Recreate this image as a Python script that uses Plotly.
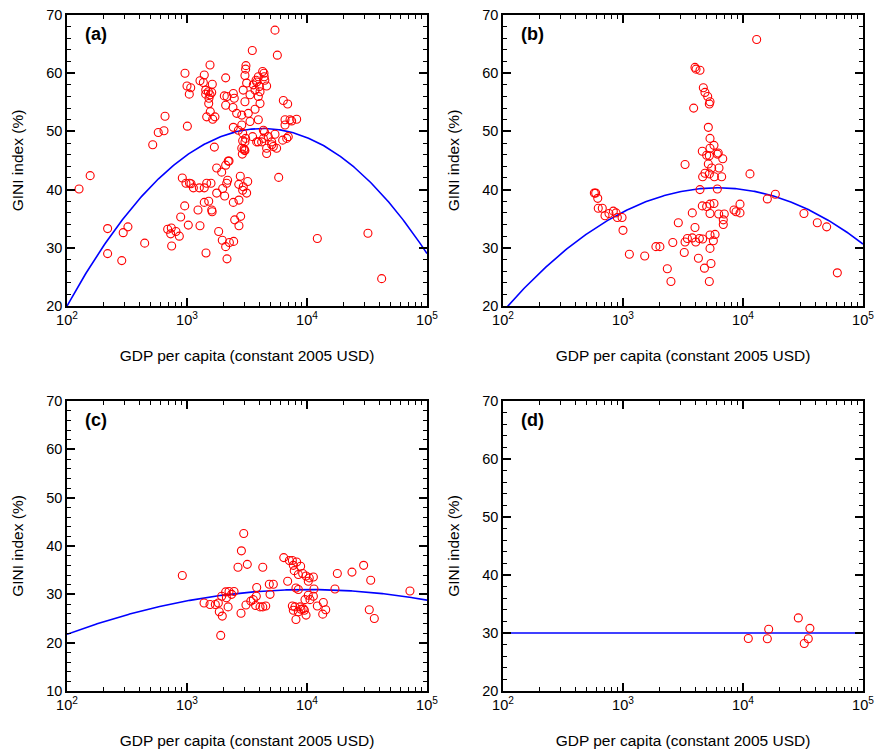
import numpy as np
import plotly.graph_objects as go

# ---- Panel (a) ----
gdp_a = [126, 156, 218, 218, 294, 322, 286, 444, 518, 576, 643, 656, 690, 731, 740, 809, 863, 745,
         886, 957, 914, 980, 1050, 1080, 1130, 1267, 1393, 1459, 1585, 1025, 1283, 1235, 1393, 1517,
         1607, 1620, 1440, 1767, 1945, 2100, 2206, 2142, 2180, 1767, 1983, 2060, 1836, 1968, 2100,
         2255, 2449, 2154, 2432, 2710, 2497, 2710, 2800, 2780, 2945, 2700, 3206, 3141, 2910, 2890,
         3040, 4610, 5810, 12190, 32200, 41900, 5410, 3500, 5660, 3100, 3080, 3040, 4270, 4380, 4400,
         4450, 3140, 2940, 3570, 3810, 4610, 4010, 4060, 3350, 3930, 4060, 3040, 3690, 3240, 3930,
         3350, 2860, 6350, 6900, 6560, 7220, 8200, 7450, 6560, 6980, 5410, 4330, 4420, 3520, 3040,
         2910, 3810, 4190, 4330, 4760, 5080, 5240, 5580, 5080, 4610, 6270, 6780, 2985, 1555, 962,
         1393, 1283, 2100, 1000, 1074, 1045, 1368, 1625, 1432, 1507, 1432, 1607, 1524, 1556, 1517,
         1563, 1459, 1637, 1710, 1007, 1690, 2046, 2153, 2100, 2432, 2477, 2415, 2594, 3690, 3760,
         3930, 2860, 2432, 2680, 2910, 3080, 2860, 3010, 2240, 3930]
gini_a = [40.1, 42.4, 33.3, 29.0, 32.6, 33.6, 27.8, 30.8, 47.7, 49.8, 50.1, 52.6, 33.2, 32.4, 33.4,
          32.8, 32.0, 30.3, 35.3, 37.2, 42.0, 41.1, 41.1, 41.0, 40.3, 40.3, 40.3, 41.1, 41.1, 33.9,
          33.8, 36.5, 37.8, 38.0, 36.5, 36.2, 29.1, 43.7, 43.0, 44.2, 44.9, 41.1, 41.6, 39.4, 40.2,
          38.9, 32.8, 31.3, 30.2, 30.9, 31.1, 28.1, 37.8, 38.2, 34.8, 33.8, 35.4, 42.3, 40.5, 40.9,
          41.4, 39.4, 39.9, 46.1, 46.7, 46.2, 42.1, 31.6, 32.5, 24.7, 67.4, 63.9, 63.1, 61.3, 60.7,
          59.6, 60.3, 60.0, 59.4, 58.8, 58.3, 57.1, 58.0, 58.5, 57.8, 57.7, 56.8, 56.3, 56.0, 54.8,
          55.1, 53.8, 53.1, 52.0, 51.7, 52.8, 55.3, 54.7, 52.0, 52.0, 52.1, 51.8, 51.1, 49.1, 49.5,
          50.2, 49.9, 49.1, 48.2, 48.4, 48.2, 48.2, 48.8, 49.1, 47.7, 47.4, 47.1, 48.2, 47.1, 48.5,
          48.8, 47.0, 61.4, 60.0, 59.7, 58.7, 59.2, 57.8, 57.5, 56.4, 58.4, 58.1, 57.1, 56.8, 56.4,
          56.7, 55.7, 56.3, 54.8, 53.4, 52.5, 52.1, 52.5, 50.9, 47.3, 56.1, 56.0, 54.5, 56.5, 55.7,
          54.1, 53.1, 57.1, 58.8, 59.4, 51.1, 50.7, 50.2, 49.7, 48.8, 47.1, 46.8, 44.9, 48.2]

# ---- Panel (b) ----
gdp_b = [13000, 3980, 4060, 4380, 3880, 4670, 4820, 5080, 5310, 5240, 5140, 5310, 5730, 5310, 4580,
         4980, 5240, 6220, 6110, 6780, 3290, 5140, 5480, 6310, 4820, 5240, 4610, 5770, 6640, 11430,
         4380, 6110, 15950, 18600, 32200, 41600, 49800, 61100, 4580, 4980, 5310, 5730, 5310, 3780,
         6270, 6980, 6850, 6850, 8410, 9440, 9440, 8750, 2890, 3980, 2030, 2600, 3290, 3440, 3780,
         4040, 4330, 4610, 5310, 5850, 5660, 5310, 3240, 4250, 4770, 5410, 2340, 2510, 5240, 577,
         592, 616, 622, 672, 708, 764, 830, 875, 897, 982, 1000, 1130, 1517, 1880]
gini_b = [65.8, 61.0, 60.7, 60.5, 54.0, 57.5, 56.7, 56.0, 55.1, 54.7, 50.7, 48.8, 47.6, 47.1, 46.6,
          45.9, 45.8, 46.3, 46.1, 45.3, 44.3, 44.4, 43.7, 43.7, 42.8, 42.7, 42.2, 42.2, 42.2, 42.7,
          40.0, 40.1, 38.4, 39.2, 35.9, 34.3, 33.6, 25.7, 37.2, 37.1, 37.5, 37.6, 35.9, 36.0, 35.8,
          35.8, 34.8, 34.0, 36.5, 37.5, 36.0, 36.2, 34.3, 33.5, 30.2, 30.9, 31.0, 31.6, 31.7, 31.0,
          31.6, 31.5, 32.2, 32.3, 31.2, 29.9, 29.2, 28.2, 26.5, 27.3, 26.4, 24.2, 24.2, 39.4, 39.4,
          38.5, 36.8, 36.8, 35.5, 35.9, 36.3, 36.0, 35.2, 35.2, 33.0, 28.9, 28.6, 30.2]

# ---- Panel (c) ----
gdp_c = [914, 2970, 2840, 2660, 3180, 1387, 1555, 1722, 1824, 1945, 2100, 2240, 2130, 2355, 2466,
         1858, 1968, 2200, 1910, 2820, 3100, 3400, 4280, 3810, 3780, 3570, 3730, 4060, 4280, 4530,
         4850, 5240, 4920, 6400, 7130, 7550, 8200, 7690, 8850, 7830, 8470, 9200, 9820, 10440, 11300,
         10250, 6900, 8090, 8470, 11430, 10250, 11300, 10590, 9620, 7550, 7940, 7690, 8750, 8910,
         9310, 8470, 9510, 9820, 8090, 12190, 13680, 14320, 13520, 17100, 17900, 23700, 29650,
         33960, 33040, 36390, 72100]
gini_c = [33.9, 42.6, 39.0, 35.6, 36.2, 28.2, 27.9, 27.9, 28.2, 29.6, 30.5, 30.6, 29.3, 30.0, 30.6,
          26.4, 25.5, 27.4, 21.5, 26.1, 27.8, 28.6, 35.6, 31.4, 29.6, 28.9, 27.7, 27.4, 27.4, 27.6,
          32.1, 32.1, 30.0, 37.6, 37.0, 37.0, 36.7, 36.0, 35.8, 34.9, 34.1, 34.3, 33.8, 33.4, 33.6,
          32.7, 32.7, 31.3, 31.0, 31.1, 29.8, 29.6, 28.9, 28.9, 27.6, 27.4, 26.7, 27.4, 26.9, 27.0,
          26.4, 26.7, 25.7, 24.8, 27.6, 28.3, 26.8, 25.9, 31.1, 34.3, 34.6, 36.0, 32.9, 26.8, 25.0,
          30.7]

# ---- Panel (d) ----
gdp_d = [11070, 15950, 16370, 28900, 36100, 35000, 32400]
gini_d = [29.05, 29.0, 30.65, 32.6, 30.8, 29.0, 28.2]

# Quadratic fits in log10(GDP): GINI = c0 + c1*L + c2*L^2
fit_a = [-100.7, 83.29, -11.47]
fit_b = [-54.82, 50.17, -6.615]
fit_c = [-5.71, 18.28, -2.276]
fit_d = [30.0, 0.0, 0.0]

panel_labels = ["(a)", "(b)", "(c)", "(d)"]
y_ranges = [[20, 70], [20, 70], [10, 70], [20, 70]]
x_tick_vals = [1e2, 1e3, 1e4, 1e5]
x_tick_text = ["10<sup>2</sup>", "10<sup>3</sup>", "10<sup>4</sup>", "10<sup>5</sup>"]
x_minor_vals = [m * 10 ** e for e in (2, 3, 4) for m in range(2, 10)]

W, H = 876, 754
x_domains = [[67 / W, 427 / W], [503 / W, 863 / W], [67 / W, 427 / W], [503 / W, 863 / W]]
y_top = [1 - 306 / H, 1 - 15 / H]
y_bot = [1 - 691 / H, 1 - 401 / H]
y_domains = [y_top, y_top, y_bot, y_bot]

FONT = "Liberation Sans, Arial, Helvetica, sans-serif"
fig = go.Figure()

data = [(gdp_a, gini_a, fit_a), (gdp_b, gini_b, fit_b), (gdp_c, gini_c, fit_c), (gdp_d, gini_d, fit_d)]
L = np.linspace(2, 5, 300)
for i, (gx, gy, fit) in enumerate(data):
    xa = "x" if i == 0 else f"x{i+1}"
    ya = "y" if i == 0 else f"y{i+1}"
    curve = fit[0] + fit[1] * L + fit[2] * L ** 2
    fig.add_trace(go.Scatter(x=10 ** L, y=curve, mode="lines", xaxis=xa, yaxis=ya,
                             line=dict(color="#0000ff", width=1.6), showlegend=False,
                             hoverinfo="skip"))
    fig.add_trace(go.Scatter(x=gx, y=gy, mode="markers", xaxis=xa, yaxis=ya,
                             marker=dict(symbol="circle-open", size=8, color="#ff0000",
                                         line=dict(width=1.1, color="#ff0000")),
                             showlegend=False))

layout = dict(width=W, height=H, margin=dict(l=0, r=0, t=0, b=0),
              paper_bgcolor="white", plot_bgcolor="white",
              font=dict(family=FONT, size=14, color="black"))

for i in range(4):
    xk = "xaxis" if i == 0 else f"xaxis{i+1}"
    yk = "yaxis" if i == 0 else f"yaxis{i+1}"
    ya = "y" if i == 0 else f"y{i+1}"
    xa = "x" if i == 0 else f"x{i+1}"
    layout[xk] = dict(
        type="log", range=[2, 5], domain=x_domains[i], anchor=ya,
        showline=True, linecolor="black", linewidth=1.6, mirror="allticks",
        ticks="inside", ticklen=8, tickwidth=1.6, tickcolor="black",
        tickvals=x_tick_vals, ticktext=x_tick_text, showgrid=False, zeroline=False,
        tickfont=dict(size=14.5), automargin=False,
        minor=dict(ticks="inside", ticklen=4, tickwidth=1.2, tickcolor="black",
                   tickvals=x_minor_vals, showgrid=False),
        title=dict(text="GDP per capita (constant 2005 USD)", font=dict(size=15.5), standoff=23),
    )
    layout[yk] = dict(
        range=y_ranges[i], domain=y_domains[i], anchor=xa,
        showline=True, linecolor="black", linewidth=1.6, mirror="allticks",
        ticks="inside", ticklen=8, tickwidth=1.6, tickcolor="black",
        tick0=0, dtick=10, showgrid=False, zeroline=False,
        tickfont=dict(size=14.5), automargin=False,
        minor=dict(ticks="inside", ticklen=4, tickwidth=1.2, tickcolor="black",
                   dtick=2, showgrid=False),
        title=dict(text="GINI index (%)", font=dict(size=15.5), standoff=19),
    )

fig.update_layout(**layout)

for i, lab in enumerate(panel_labels):
    xa = "x" if i == 0 else f"x{i+1}"
    ya = "y" if i == 0 else f"y{i+1}"
    fig.add_annotation(text=f"<b>{lab}</b>", xref=f"{xa} domain", yref=f"{ya} domain",
                       x=0.045, y=0.935, xanchor="left", yanchor="middle", showarrow=False,
                       font=dict(size=18, family=FONT, color="black"))

fig.write_html("out.html")
